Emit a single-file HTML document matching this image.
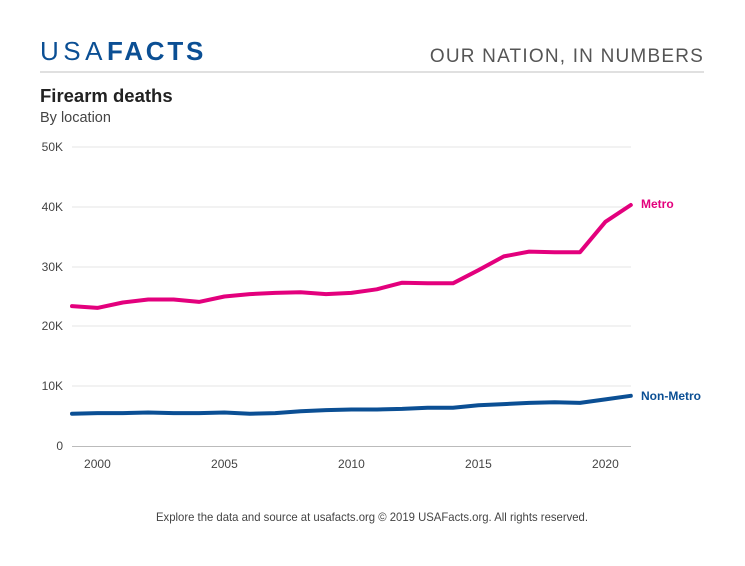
<!DOCTYPE html>
<html><head><meta charset="utf-8"><style>
body{margin:0;background:#fff;width:745px;height:561px;overflow:hidden;font-family:"Liberation Sans",sans-serif}
</style></head><body>
<svg width="745" height="561" xmlns="http://www.w3.org/2000/svg" font-family="Liberation Sans, sans-serif">
<text x="40" y="60" font-size="26" fill="#0b4f94" letter-spacing="4.5">USA<tspan font-weight="bold" letter-spacing="2.8">FACTS</tspan></text>
<text x="704" y="62" font-size="19" fill="#555" text-anchor="end" letter-spacing="1.2">OUR NATION, IN NUMBERS</text>
<line x1="40" y1="72" x2="704" y2="72" stroke="#e0e0e0" stroke-width="2"/>
<text x="40" y="102" font-size="18.5" font-weight="bold" fill="#222">Firearm deaths</text>
<text x="40" y="122" font-size="14.5" fill="#444">By location</text>
<g stroke="#e6e6e6" stroke-width="1">
<line x1="72" y1="147" x2="631" y2="147"/><line x1="72" y1="207" x2="631" y2="207"/>
<line x1="72" y1="267" x2="631" y2="267"/><line x1="72" y1="326" x2="631" y2="326"/>
<line x1="72" y1="386" x2="631" y2="386"/>
</g>
<line x1="72" y1="446.5" x2="631" y2="446.5" stroke="#bbb"/>
<g font-size="12" fill="#444" text-anchor="end">
<text x="63" y="151">50K</text><text x="63" y="211">40K</text><text x="63" y="271">30K</text>
<text x="63" y="330">20K</text><text x="63" y="390">10K</text><text x="63" y="450">0</text>
</g>
<g font-size="12" fill="#444" text-anchor="middle">
<text x="97.4" y="468">2000</text><text x="224.4" y="468">2005</text><text x="351.4" y="468">2010</text>
<text x="478.4" y="468">2015</text><text x="605.4" y="468">2020</text>
</g>
<polyline fill="none" stroke="#e3007d" stroke-width="4" stroke-linejoin="round" stroke-linecap="round" points="72,306.1 97.4,307.9 122.8,302.5 148.2,299.5 173.6,299.5 199,301.9 224.4,296.5 249.8,294.1 275.2,292.9 300.6,292.3 326,294.1 351.4,292.9 376.8,289.3 402.2,282.7 427.6,283.3 453,283.3 478.4,270.2 503.8,256.4 529.2,251.6 554.6,252.2 580,252.2 605.4,221.8 630.8,205"/>
<polyline fill="none" stroke="#0b4f94" stroke-width="4" stroke-linejoin="round" stroke-linecap="round" points="72,413.7 97.4,413.1 122.8,413.1 148.2,412.5 173.6,413.1 199,413.1 224.4,412.5 249.8,413.7 275.2,413.1 300.6,411.3 326,410.1 351.4,409.5 376.8,409.5 402.2,408.9 427.6,407.7 453,407.7 478.4,405.3 503.8,404.1 529.2,402.9 554.6,402.3 580,402.9 605.4,399.4 630.8,395.8"/>
<text x="641" y="208" font-size="12" font-weight="bold" fill="#e3007d">Metro</text>
<text x="641" y="400" font-size="12" font-weight="bold" fill="#0b4f94">Non-Metro</text>
<text x="372" y="521" font-size="11.6" fill="#444" text-anchor="middle" textLength="432" lengthAdjust="spacingAndGlyphs">Explore the data and source at usafacts.org © 2019 USAFacts.org. All rights reserved.</text>
</svg>
</body></html>
